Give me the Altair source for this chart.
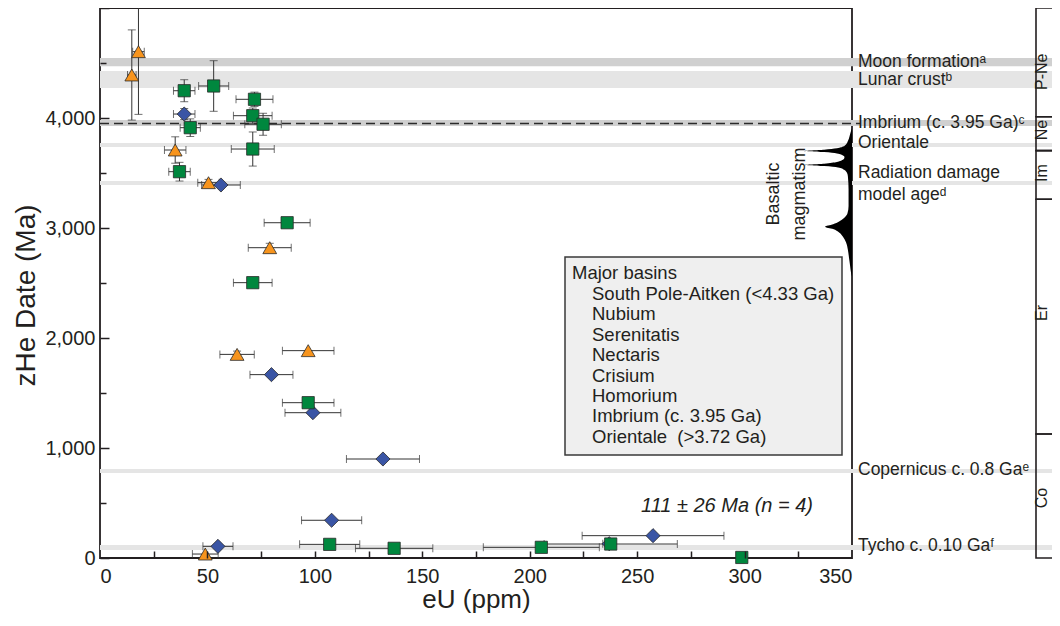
import altair as alt
import pandas as pd

# ---------------- data ----------------
# three sample groups: orange triangles, blue diamonds, green squares
orange_x  = [17.9, 14.8, 35.0, 50.5, 79.0, 63.8, 96.9, 49.0]
orange_y  = [4603, 4391, 3709, 3412, 2821, 1851, 1885, 36]
orange_xe = [2.7, 2.0, 5.0, 5.0, 10.0, 8.0, 12.0, 6.0]
orange_ye = [570, 410, 120, 30, 40, 30, 0, 0]

blue_x  = [39.2, 56.3, 79.8, 99.1, 131.7, 107.8, 54.9, 257.4, 237.0]
blue_y  = [4036, 3391, 1667, 1321, 900, 343, 106, 203, 130]
blue_xe = [5.0, 9.0, 10.0, 13.0, 17.0, 14.0, 7.0, 33.0, 3.0]
blue_ye = [50, 0, 0, 0, 0, 0, 0, 0, 20]

green_x  = [39.2, 52.9, 42.0, 71.9, 71.1, 75.9, 71.1, 37.0, 87.1, 71.1, 96.9,
            106.9, 136.9, 205.4, 237.7, 298.7]
green_y  = [4248, 4291, 3912, 4170, 4021, 3943, 3718, 3512, 3048, 2503, 1412,
            124, 88, 97, 127, 5]
green_xe = [5.0, 7.0, 4.7, 8.6, 9.0, 8.5, 10.0, 5.0, 10.7, 9.0, 12.0,
            14.0, 18.0, 27.0, 31.0, 0.0]
green_ye = [100, 230, 80, 65, 70, 100, 155, 85, 0, 0, 0, 0, 0, 0, 20, 0]

# reference age bands (Ma)
band_lo    = [4470, 4273, 3927, 3736, 3390, 773, 73]
band_hi    = [4545, 4427, 3982, 3773, 3427, 809, 118]
band_shade = ["dark", "light", "dark", "light", "light", "light", "light"]

imbrium_age = [3950]

# annotation labels at right
note_text = ["Moon formation\u1d43", "Lunar crust\u1d47", "Imbrium (c. 3.95 Ga)\u1d9c",
             "Orientale", "Radiation damage", "model age\u1d48",
             "Copernicus c. 0.8 Ga\u1d49", "Tycho c. 0.10 Ga\u1da0"]
note_age = [4509, 4345, 3957, 3770, 3497, 3300, 800, 109]

# basaltic magmatism distribution (age Ma, relative width in ppm units)
basalt_age = [3905, 3880, 3830, 3790, 3760, 3740, 3724, 3712, 3700, 3690, 3678,
              3660, 3645, 3630, 3615, 3600, 3585, 3573, 3563, 3550, 3530, 3500,
              3467, 3350, 3200, 3133, 3090, 3060, 3035, 3012, 2990, 2960, 2920,
              2870, 2800, 2730, 2660, 2600, 2560]
basalt_w   = [0, 0.5, 1.2, 1.9, 2.8, 4.2, 7.0, 13.0, 22.3, 13.0, 7.0,
              4.2, 3.5, 3.7, 4.7, 7.0, 13.0, 22.3, 13.0, 6.5, 3.7, 2.3,
              1.9, 1.6, 1.6, 2.1, 3.7, 6.0, 8.8, 12.6, 8.8, 6.0, 4.2,
              2.8, 1.9, 1.4, 0.9, 0.5, 0]

# lunar time scale
period_top    = [5000, 4012, 3703, 3261, 1127]
period_bottom = [4012, 3703, 3261, 1127, 0]
period_label  = ["P-Ne", "Ne", "Im", "Er", "Co"]
period_label_age = [4420, 3891, 3500, 2227, 545]

legend_title = "Major basins"
legend_items = ["South Pole-Aitken (<4.33 Ga)", "Nubium", "Serenitatis", "Nectaris",
                "Crisium", "Homorium", "Imbrium (c. 3.95 Ga)", "Orientale\u00a0 (>3.72 Ga)"]
mean_label = "111 \u00b1 26 Ma (n = 4)"

# ---------------- tables ----------------
groups = [("orange", orange_x, orange_y, orange_xe, orange_ye),
          ("blue", blue_x, blue_y, blue_xe, blue_ye),
          ("green", green_x, green_y, green_xe, green_ye)]
rows = []
for name, xs, ys, xes, yes in groups:
    for x, y, xe, ye in zip(xs, ys, xes, yes):
        rows.append(dict(series=name, x=x, y=y, xe=xe, ye=ye,
                         xlo=x - xe, xhi=x + xe, ylo=y - ye, yhi=min(y + ye, 5070)))
pts = pd.DataFrame(rows)
xerr = pts[pts.xe > 0]
yerr = pts[pts.ye > 0]
xcap = pd.concat([xerr.assign(cx=xerr.xlo), xerr.assign(cx=xerr.xhi)])
ycap = pd.concat([yerr.assign(cy=yerr.ylo), yerr.assign(cy=yerr.y + yerr.ye)])
ycap = ycap[ycap.cy <= 5000]

bands = pd.DataFrame(dict(lo=band_lo, hi=band_hi, shade=band_shade))
notes = pd.DataFrame(dict(text=note_text, age=note_age))
basalt = pd.DataFrame(dict(age=basalt_age, w=basalt_w))
basalt["xl"] = 350 - basalt["w"]
basalt["xr"] = 350
periods = pd.DataFrame(dict(top=period_top, bottom=period_bottom,
                            label=period_label, lab_age=period_label_age))
one = pd.DataFrame({"k": [0]})

INK = "#231f20"
XS = alt.Scale(domain=[0, 350], nice=False, zero=False)
YS = alt.Scale(domain=[0, 5000], nice=False, zero=False)

ax_x_main = alt.Axis(values=list(range(0, 351, 50)), labelFontSize=20, labelPadding=8,
                     ticks=False, domain=False, grid=False, title="eU (ppm)",
                     titleFontSize=26, titleFontWeight="normal", titlePadding=0,
                     labelColor=INK, titleColor=INK)
ax_x_ticks = alt.Axis(orient="top", offset=-550, values=list(range(25, 350, 25)),
                      labels=False, domain=False, ticks=True, tickSize=7, tickWidth=1.5,
                      tickColor=INK, title=None, grid=False, zindex=2)
ax_y_main = alt.Axis(values=list(range(0, 4001, 1000)), format=",.0f", labelFontSize=20,
                     labelPadding=5, ticks=False, domain=False, grid=False,
                     title="zHe Date (Ma)", titleFontSize=28, titleFontWeight="normal",
                     titleX=-60, titleY=287, labelColor=INK, titleColor=INK)
ax_y_major = alt.Axis(orient="right", offset=-752, values=list(range(0, 5001, 1000)),
                      labels=False, domain=False, ticks=True, tickSize=9, tickWidth=1.5,
                      tickColor=INK, title=None, grid=False, zindex=2)
ax_y_minor = alt.Axis(orient="right", offset=-752, values=list(range(500, 5000, 1000)),
                      labels=False, domain=False, ticks=True, tickSize=6, tickWidth=1.5,
                      tickColor=INK, title=None, grid=False, zindex=2)

band_layer = alt.Chart(bands).mark_rect().encode(
    x=alt.value(0), x2=alt.value(960),
    y=alt.Y("lo:Q", scale=YS, axis=ax_y_main), y2="hi:Q",
    color=alt.Color("shade:N", scale=alt.Scale(domain=["dark", "light"],
                                              range=["#d0d0d0", "#e5e5e5"]), legend=None),
)

dash_layer = alt.Chart(pd.DataFrame({"age": imbrium_age})).mark_rule(
    color="#2a2a2a", strokeWidth=1.4, strokeDash=[9, 5]).encode(
    x=alt.value(0), x2=alt.value(760), y=alt.Y("age:Q", scale=YS, axis=None))

basalt_layer = alt.Chart(basalt).mark_area(orient="horizontal", color="black",
                                           interpolate="monotone").encode(
    y=alt.Y("age:Q", scale=YS, axis=None),
    x=alt.X("xl:Q", scale=XS, axis=None), x2="xr:Q")

basalt_text = alt.Chart(one).mark_text(angle=270, fontSize=18, lineHeight=26,
                                       align="center", baseline="middle", color=INK).encode(
    x=alt.value(674), y=alt.value(186), text=alt.value(["Basaltic", "magmatism"]))

legend_box = alt.Chart(one).mark_rect(fill="#efefef", stroke="#3a3a3a", strokeWidth=1.5).encode(
    x=alt.value(465), x2=alt.value(742), y=alt.value(249), y2=alt.value(447))
legend_head = alt.Chart(one).mark_text(align="left", baseline="middle", fontSize=18.5,
                                       color=INK).encode(
    x=alt.value(472), y=alt.value(265), text=alt.value(legend_title))
legend_body = alt.Chart(one).mark_text(align="left", baseline="top", fontSize=18.5,
                                       lineHeight=20.4, color=INK).encode(
    x=alt.value(492), y=alt.value(277), text=alt.value(legend_items))

xerr_layer = alt.Chart(xerr).mark_rule(color="#333333", strokeWidth=1).encode(
    x=alt.X("xlo:Q", scale=XS, axis=ax_x_ticks), x2="xhi:Q",
    y=alt.Y("y:Q", scale=YS, axis=ax_y_minor))
yerr_layer = alt.Chart(yerr).mark_rule(color="#333333", strokeWidth=1).encode(
    x=alt.X("x:Q", scale=XS, axis=None),
    y=alt.Y("ylo:Q", scale=YS, axis=None), y2="yhi:Q")
xcap_layer = alt.Chart(xcap).mark_tick(orient="vertical", size=8, thickness=1,
                                       color="#333333").encode(
    x=alt.X("cx:Q", scale=XS, axis=None), y=alt.Y("y:Q", scale=YS, axis=None))
ycap_layer = alt.Chart(ycap).mark_tick(orient="horizontal", size=8, thickness=1,
                                       color="#333333").encode(
    x=alt.X("x:Q", scale=XS, axis=None), y=alt.Y("cy:Q", scale=YS, axis=None))

marker_style = {"orange": ("triangle-up", "#f7941d", 190),
                "blue": ("diamond", "#3a55a5", 200),
                "green": ("square", "#00873e", 150)}
point_layers = []
for i, (name, *_rest) in enumerate(groups):
    shp, col, sz = marker_style[name]
    point_layers.append(
        alt.Chart(pts[pts.series == name]).mark_point(
            shape=shp, filled=True, fill=col, opacity=1, size=sz,
            stroke="#2a2a2a", strokeWidth=0.8).encode(
            x=alt.X("x:Q", scale=XS, axis=ax_x_main if i == 0 else None),
            y=alt.Y("y:Q", scale=YS, axis=ax_y_major if i == 0 else None))
    )

mean_text = alt.Chart(one).mark_text(fontSize=20, fontStyle="italic", align="center",
                                     baseline="middle", color=INK).encode(
    x=alt.value(627), y=alt.value(498), text=alt.value(mean_label))

note_layer = alt.Chart(notes).mark_text(align="left", baseline="middle", fontSize=17.5,
                                        color=INK).encode(
    x=alt.value(758), y=alt.Y("age:Q", scale=YS, axis=None), text="text:N")

period_box = alt.Chart(periods).mark_rect(fill=None, stroke=INK, strokeWidth=1.6).encode(
    x=alt.value(936), x2=alt.value(1000),
    y=alt.Y("top:Q", scale=YS, axis=None), y2="bottom:Q")
period_text = alt.Chart(periods).mark_text(angle=270, fontSize=16, align="center",
                                           baseline="middle", color=INK).encode(
    x=alt.value(942), y=alt.Y("lab_age:Q", scale=YS, axis=None), text="label:N")

chart = alt.layer(
    band_layer, dash_layer, basalt_layer, basalt_text, legend_box, legend_head, legend_body,
    xerr_layer, yerr_layer, xcap_layer, ycap_layer, *point_layers, mean_text,
    note_layer, period_box, period_text,
).resolve_axis(x="independent", y="independent").resolve_scale(
    color="independent"
).properties(
    width=752, height=550,
    padding={"left": 92, "top": 0, "right": 200, "bottom": 60},
    autosize=alt.AutoSizeParams(type="none"),
).configure(font="Liberation Sans").configure_view(stroke=INK, strokeWidth=1.8)

chart.save("out.html", embed_options={"renderer": "svg", "actions": False})
